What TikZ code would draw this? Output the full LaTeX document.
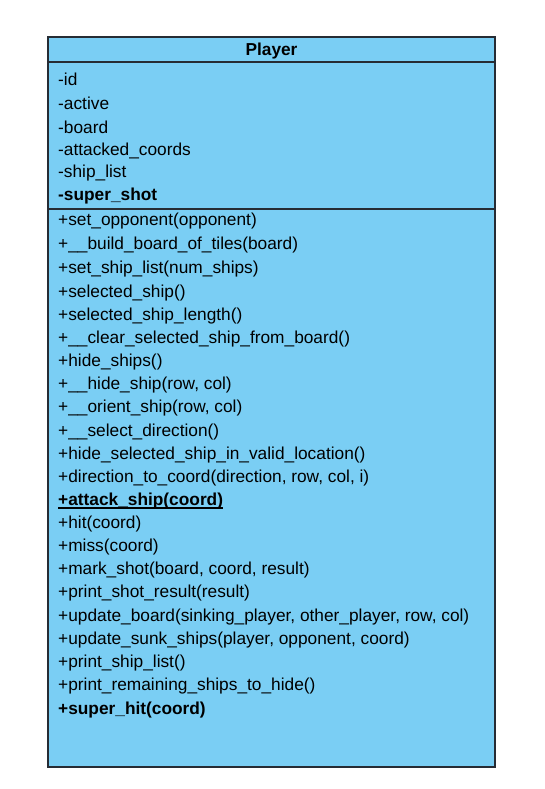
\documentclass[tikz,border=0pt]{standalone}
\usepackage{fontspec}
\setmainfont{Liberation Sans}
\usetikzlibrary{positioning}
\definecolor{classfill}{RGB}{122,206,244}
\definecolor{classline}{RGB}{38,44,52}

\tikzset{
  member/.style={anchor=west, inner sep=0pt, yshift=-1.5pt, font=\fontsize{17.3}{20}\selectfont},
  boldmember/.style={member, font=\fontsize{17.3}{20}\selectfont\bfseries},
}

\begin{document}
\begin{tikzpicture}[x=1pt, y=-1pt]
  \useasboundingbox (0,0) rectangle (544,789);

  % class box
  \draw[classline, line width=1.1pt, fill=classfill] (48,37) rectangle (495,767);
  \draw[classline, line width=1.1pt] (48,62) -- (495,62);
  \draw[classline, line width=1.1pt] (48,209) -- (495,209);

  % header
  \node[boldmember, anchor=center] (title) at (271.5,49.5) {Player};

  % attributes
  \node[member] (aid)     at (58,78)  {-id};
  \node[member] (aactive) at (58,102) {-active};
  \node[member] (aboard)  at (58,126) {-board};
  \node[member] (acoords) at (58,149) {-attacked\_coords};
  \node[member] (aships)  at (58,172) {-ship\_list};
  \node[boldmember] (asuper) at (58,195) {-super\_shot};

  % methods
  \node[member] (m1)  at (58,220) {+set\_opponent(opponent)};
  \node[member] (m2)  at (58,244) {+\_\_build\_board\_of\_tiles(board)};
  \node[member] (m3)  at (58,268) {+set\_ship\_list(num\_ships)};
  \node[member] (m4)  at (58,292) {+selected\_ship()};
  \node[member] (m5)  at (58,315) {+selected\_ship\_length()};
  \node[member] (m6)  at (58,338) {+\_\_clear\_selected\_ship\_from\_board()};
  \node[member] (m7)  at (58,361) {+hide\_ships()};
  \node[member] (m8)  at (58,384) {+\_\_hide\_ship(row, col)};
  \node[member] (m9)  at (58,407) {+\_\_orient\_ship(row, col)};
  \node[member] (m10) at (58,431) {+\_\_select\_direction()};
  \node[member] (m11) at (58,454) {+hide\_selected\_ship\_in\_valid\_location()};
  \node[member] (m12) at (58,477) {+direction\_to\_coord(direction, row, col, i)};
  \node[boldmember] (m13) at (58,500) {+attack\_ship(coord)};
  \draw[line width=1.2pt] ([yshift=-2pt]m13.base west) -- ([yshift=-2pt]m13.base east);
  \node[member] (m14) at (58,523) {+hit(coord)};
  \node[member] (m15) at (58,546) {+miss(coord)};
  \node[member] (m16) at (58,569) {+mark\_shot(board, coord, result)};
  \node[member] (m17) at (58,592) {+print\_shot\_result(result)};
  \node[member] (m18) at (58,616) {+update\_board(sinking\_player, other\_player, row, col)};
  \node[member] (m19) at (58,639) {+update\_sunk\_ships(player, opponent, coord)};
  \node[member] (m20) at (58,662) {+print\_ship\_list()};
  \node[member] (m21) at (58,685) {+print\_remaining\_ships\_to\_hide()};
  \node[boldmember] (m22) at (58,709) {+super\_hit(coord)};
\end{tikzpicture}
\end{document}
